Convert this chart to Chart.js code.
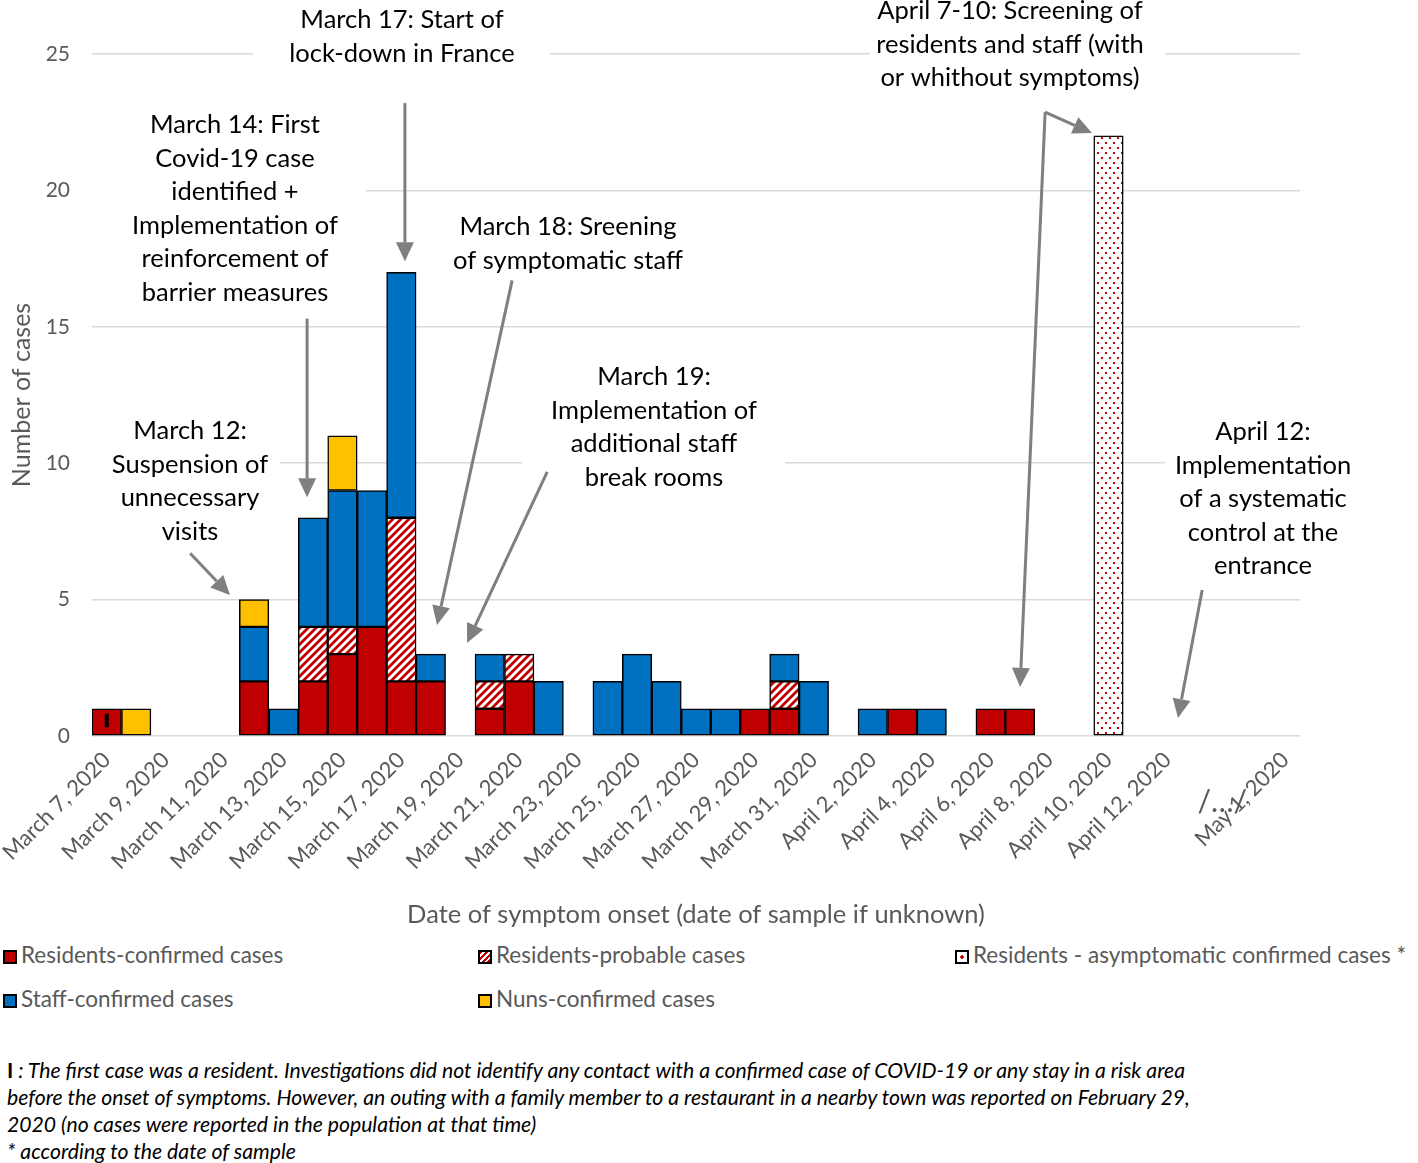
<!DOCTYPE html>
<html>
<head>
<meta charset="utf-8">
<script src="https://cdn.jsdelivr.net/npm/chart.js@4.4.1/dist/chart.umd.min.js"></script>
<style>
  body { margin: 0; background: #fff; width: 1418px; height: 1163px; position: relative; overflow: hidden; font-family: Lato, sans-serif; }
  #wrap { position: absolute; left: 0; top: 0; width: 1418px; height: 940px; }
  .leg { position: absolute; font-size: 22.5px; color: #595959; white-space: nowrap; line-height: 24px; }
  .leg i { display: inline-block; width: 10px; height: 10px; border: 2px solid #000; margin-right: 4px; vertical-align: -1px; }
  #note { position: absolute; left: 7px; top: 1057px; font-size: 21.2px; font-style: italic; line-height: 27px; color: #000; white-space: nowrap; }
  #note b { font-style: normal; }
</style>
</head>
<body>
<div id="wrap"><canvas id="epiChart"></canvas></div>
<div id="legend"></div>
<div id="note"><b>I</b> : The first case was a resident. Investigations did not identify any contact with a confirmed case of COVID-19 or any stay in a risk area<br>before the onset of symptoms. However, an outing with a family member to a restaurant in a nearby town was reported on February 29,<br>2020 (no cases were reported in the population at that time)<br>* according to the date of sample</div>
<script>
// dates (one bar per day), then the gap up to May 1
const categories = [
  'March 7, 2020', 'March 8, 2020', 'March 9, 2020', 'March 10, 2020', 'March 11, 2020',
  'March 12, 2020', 'March 13, 2020', 'March 14, 2020', 'March 15, 2020', 'March 16, 2020',
  'March 17, 2020', 'March 18, 2020', 'March 19, 2020', 'March 20, 2020', 'March 21, 2020',
  'March 22, 2020', 'March 23, 2020', 'March 24, 2020', 'March 25, 2020', 'March 26, 2020',
  'March 27, 2020', 'March 28, 2020', 'March 29, 2020', 'March 30, 2020', 'March 31, 2020',
  'April 1, 2020', 'April 2, 2020', 'April 3, 2020', 'April 4, 2020', 'April 5, 2020',
  'April 6, 2020', 'April 7, 2020', 'April 8, 2020', 'April 9, 2020', 'April 10, 2020',
  'April 11, 2020', 'April 12, 2020', 'April 13, 2020', '/…/', 'April 30, 2020', 'May 1, 2020'
];

const residentsConfirmed   = [1,0,0,0,0,2,0,2,3,4,2,2,0,1,2,0,0,0,0,0,0,0,1,1,0,0,0,1,0,0,1,1,0,0,0,0,0,0,0,0,0];
const residentsProbable    = [0,0,0,0,0,0,0,2,1,0,6,0,0,1,1,0,0,0,0,0,0,0,0,1,0,0,0,0,0,0,0,0,0,0,0,0,0,0,0,0,0];
const residentsAsymptomatic= [0,0,0,0,0,0,0,0,0,0,0,0,0,0,0,0,0,0,0,0,0,0,0,0,0,0,0,0,0,0,0,0,0,0,22,0,0,0,0,0,0];
const staffConfirmed       = [0,0,0,0,0,2,1,4,5,5,9,1,0,1,0,2,0,2,3,2,1,1,0,1,2,0,1,0,1,0,0,0,0,0,0,0,0,0,0,0,0];
const nunsConfirmed        = [0,1,0,0,0,1,0,0,2,0,0,0,0,0,0,0,0,0,0,0,0,0,0,0,0,0,0,0,0,0,0,0,0,0,0,0,0,0,0,0,0];

const seriesNames = [
  'Residents-confirmed cases', 'Residents-probable cases',
  'Residents - asymptomatic confirmed cases *', 'Staff-confirmed cases', 'Nuns-confirmed cases'
];
const yTicks = [0, 5, 10, 15, 20, 25];

const RED = '#C00000', BLUE = '#0070C0', YELLOW = '#FFC000';

function stripes() {
  const c = document.createElement('canvas');
  c.width = 8; c.height = 8;
  const g = c.getContext('2d');
  g.fillStyle = '#fff'; g.fillRect(0, 0, 8, 8);
  g.strokeStyle = RED; g.lineWidth = 2.8;
  g.beginPath();
  g.moveTo(0, 8); g.lineTo(8, 0);
  g.moveTo(-4, 4); g.lineTo(4, -4);
  g.moveTo(4, 12); g.lineTo(12, 4);
  g.stroke();
  return g.createPattern(c, 'repeat');
}
function dots() {
  const c = document.createElement('canvas');
  c.width = 8; c.height = 10;
  const g = c.getContext('2d');
  g.fillStyle = '#fff'; g.fillRect(0, 0, 8, 10);
  g.fillStyle = RED;
  g.fillRect(1, 2, 2, 2);
  g.fillRect(5, 7, 2, 2);
  return g.createPattern(c, 'repeat');
}

// text boxes + arrows (arrow ends in data units: category index, cases)
const notes = [
  { lines: ['March 17: Start of', 'lock-down in France'], cx: 402, y0: 20, box: [253, 0, 297, 95] },
  { lines: ['March 14: First', 'Covid-19 case', 'identified +', 'Implementation of', 'reinforcement of', 'barrier measures'], cx: 235, y0: 125, box: [92, 105, 274, 205] },
  { lines: ['March 12:', 'Suspension of', 'unnecessary', 'visits'], cx: 190, y0: 431, box: [92, 410, 188, 140] },
  { lines: ['March 18: Sreening', 'of symptomatic staff'], cx: 568, y0: 227, box: [445, 205, 245, 75] },
  { lines: ['March 19:', 'Implementation of', 'additional staff', 'break rooms'], cx: 654, y0: 377, box: [522, 355, 263, 140] },
  { lines: ['April 7-10: Screening of', 'residents and staff (with', 'or whithout symptoms)'], cx: 1010, y0: 11, box: [870, 0, 295, 95] },
  { lines: ['April 12:', 'Implementation', 'of a systematic', 'control at the', 'entrance'], cx: 1263, y0: 432, box: [1165, 410, 197, 175] }
];
const arrows = [
  [10.12, 23.2, 10.12, 17.4],
  [6.80, 15.3, 6.80, 8.75],
  [2.83, 6.7, 4.18, 5.17],
  [13.76, 16.7, 11.21, 4.07],
  [14.95, 9.68, 12.23, 3.41],
  [31.85, 22.87, 33.44, 22.1],
  [31.85, 22.87, 31.0, 1.8],
  [37.18, 5.35, 36.36, 0.66]
];

const notesPlugin = {
  id: 'notes',
  beforeDatasetsDraw(chart) {
    const ctx = chart.ctx;
    ctx.save();
    ctx.fillStyle = '#fff';
    notes.forEach(n => ctx.fillRect(n.box[0], n.box[1], n.box[2], n.box[3]));
    ctx.restore();
  },
  afterDatasetsDraw(chart) {
    const ctx = chart.ctx;
    const x = chart.scales.x, y = chart.scales.y;
    ctx.save();
    // first case marker
    const el = chart.getDatasetMeta(0).data[0];
    ctx.fillStyle = '#000';
    ctx.fillRect(el.x - 2, el.y + 5, 4, el.base - el.y - 13);

    ctx.font = '25.5px Lato';
    ctx.textAlign = 'center';
    ctx.textBaseline = 'middle';
    notes.forEach(n => {
      n.lines.forEach((t, i) => ctx.fillText(t, n.cx, n.y0 + i * 33.5));
    });

    ctx.strokeStyle = '#7F7F7F';
    ctx.fillStyle = '#7F7F7F';
    ctx.lineWidth = 3;
    arrows.forEach(a => {
      const x1 = x.getPixelForValue(a[0]), y1 = y.getPixelForValue(a[1]);
      const x2 = x.getPixelForValue(a[2]), y2 = y.getPixelForValue(a[3]);
      const ang = Math.atan2(y2 - y1, x2 - x1);
      const hl = 19, hw = 9;
      const bx = x2 - hl * Math.cos(ang), by = y2 - hl * Math.sin(ang);
      ctx.beginPath();
      ctx.moveTo(x1, y1); ctx.lineTo(bx, by);
      ctx.stroke();
      ctx.beginPath();
      ctx.moveTo(x2, y2);
      ctx.lineTo(bx + hw * Math.sin(ang), by - hw * Math.cos(ang));
      ctx.lineTo(bx - hw * Math.sin(ang), by + hw * Math.cos(ang));
      ctx.closePath();
      ctx.fill();
    });

    // gap mark on the date axis
    ctx.fillStyle = '#595959';
    ctx.font = '30px Lato';
    ctx.fillText(categories[38], x.getPixelForValue(38) - 4, 802);
    ctx.restore();
  }
};

Chart.defaults.font.family = 'Lato';
Chart.defaults.color = '#595959';

const ctx = document.getElementById('epiChart').getContext('2d');
const colors = [RED, stripes(), dots(), BLUE, YELLOW];
const series = [residentsConfirmed, residentsProbable, residentsAsymptomatic, staffConfirmed, nunsConfirmed];

new Chart(ctx, {
  type: 'bar',
  data: {
    labels: categories,
    datasets: series.map((d, i) => ({
      label: seriesNames[i],
      data: d,
      backgroundColor: colors[i],
      borderColor: '#000',
      borderWidth: 1.5,
      borderSkipped: false,
      barPercentage: 1,
      categoryPercentage: 1
    }))
  },
  options: {
    responsive: true,
    maintainAspectRatio: false,
    animation: false,
    layout: { padding: { top: 54, right: 118, left: 0, bottom: 0 } },
    plugins: { legend: { display: false }, tooltip: { enabled: false } },
    scales: {
      x: {
        stacked: true,
        grid: { display: false },
        border: { display: false },
        ticks: {
          autoSkip: false,
          minRotation: 45,
          maxRotation: 45,
          font: { size: 22 },
          callback: (v, i) => (i % 2 === 0 && i !== 38) ? categories[i] : ''
        },
        title: {
          display: true,
          text: 'Date of symptom onset (date of sample if unknown)',
          font: { size: 25.5 },
          padding: { top: 0, bottom: 10 }
        },
        afterFit: s => { s.height = 204; s.paddingLeft = 0; s.paddingRight = 0; }
      },
      y: {
        stacked: true,
        min: 0,
        max: 25,
        afterBuildTicks: s => { s.ticks = yTicks.map(v => ({ value: v })); },
        grid: { color: '#D9D9D9', lineWidth: 1.5, drawTicks: false },
        border: { display: false },
        ticks: { font: { size: 21 }, padding: 22 },
        title: {
          display: true,
          text: 'Number of cases',
          font: { size: 25 },
          padding: { top: 7, bottom: 0 }
        },
        afterFit: s => { s.width = 92; }
      }
    }
  },
  plugins: [notesPlugin]
});

// legend below the chart
const legendPos = [[3, 943], [478, 943], [955, 943], [3, 987], [478, 987]];
const legendSwatch = [
  'background:' + RED,
  'background:repeating-linear-gradient(135deg,' + RED + ' 0 2px,#fff 2px 4px)',
  'background:radial-gradient(circle,' + RED + ' 0 1.5px,#fff 2px)',
  'background:' + BLUE,
  'background:' + YELLOW
];
const legendDiv = document.getElementById('legend');
seriesNames.forEach((name, i) => {
  const d = document.createElement('div');
  d.className = 'leg';
  d.style.left = legendPos[i][0] + 'px';
  d.style.top = legendPos[i][1] + 'px';
  d.innerHTML = '<i style="' + legendSwatch[i] + '"></i>' + name;
  legendDiv.appendChild(d);
});
</script>
</body>
</html>
